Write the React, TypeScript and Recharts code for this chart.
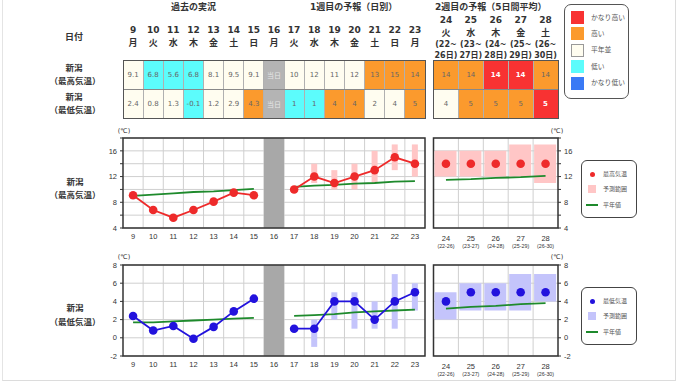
import React from 'react';
import { ComposedChart, Line, Bar, XAxis, YAxis, CartesianGrid, ReferenceArea } from 'recharts';

// ---------- data ----------
const pastDays = ['9', '10', '11', '12', '13', '14', '15'];
const pastWeekdays = ['月', '火', '水', '木', '金', '土', '日'];
const todayDay = '16';
const todayWeekday = '月';
const todayLabel = '当日';
const week1Days = ['17', '18', '19', '20', '21', '22', '23'];
const week1Weekdays = ['火', '水', '木', '金', '土', '日', '月'];
const week2Days = ['24', '25', '26', '27', '28'];
const week2Weekdays = ['火', '水', '木', '金', '土'];
const week2PeriodStart = ['22', '23', '24', '25', '26'];
const week2PeriodEnd = ['26', '27', '28', '29', '30'];

const pastMax = [9.1, 6.8, 5.6, 6.8, 8.1, 9.5, 9.1];
const pastMaxNormal = [9.0, 9.2, 9.4, 9.6, 9.7, 9.9, 10.1];
const pastMaxClass = ['n', 'l', 'l', 'l', 'n', 'n', 'n'];
const pastMin = [2.4, 0.8, 1.3, -0.1, 1.2, 2.9, 4.3];
const pastMinNormal = [1.7, 1.7, 1.8, 1.9, 2.0, 2.1, 2.2];
const pastMinClass = ['n', 'n', 'n', 'l', 'n', 'n', 'h'];

const week1Max = [10, 12, 11, 12, 13, 15, 14];
const week1MaxLow = [null, 11, 10, 10, 11, 13, 12];
const week1MaxHigh = [null, 14, 13, 14, 16, 17, 17];
const week1MaxNormal = [10.4, 10.6, 10.7, 10.9, 11.0, 11.2, 11.3];
const week1MaxClass = ['n', 'n', 'n', 'n', 'h', 'h', 'h'];
const week1Min = [1, 1, 4, 4, 2, 4, 5];
const week1MinLow = [null, -1, 2, 1, 1, 1, 3];
const week1MinHigh = [null, 2, 5, 5, 4, 7, 6];
const week1MinNormal = [2.4, 2.5, 2.6, 2.8, 2.9, 3.0, 3.1];
const week1MinClass = ['l', 'l', 'h', 'h', 'n', 'n', 'h'];

const week2Max = [14, 14, 14, 14, 14];
const week2MaxLow = [12, 12, 12, 12, 11];
const week2MaxHigh = [16, 16, 16, 17, 17];
const week2MaxNormal = [11.5, 11.6, 11.8, 11.9, 12.1];
const week2MaxClass = ['h', 'h', 'vh', 'vh', 'h'];
const week2Min = [4, 5, 5, 5, 5];
const week2MinLow = [2, 3, 3, 3, 4];
const week2MinHigh = [5, 6, 6, 7, 7];
const week2MinNormal = [3.2, 3.4, 3.5, 3.7, 3.8];
const week2MinClass = ['n', 'h', 'h', 'h', 'vh'];

const maxTicks = [4, 6, 8, 10, 12, 14, 16, 18];
const minTicks = [-2, 0, 2, 4, 6, 8];

const legendClasses = ['vh', 'h', 'n', 'l', 'vl'];
const legendLabels = ['かなり高い', '高い', '平年並', '低い', 'かなり低い'];

// ---------- styles ----------
const classColor: Record<string, string> = {
  vh: '#f83232',
  h: '#fb9a2d',
  n: '#fffdf0',
  l: '#5cfcfc',
  vl: '#3a7af5',
  t: '#b4b4b4',
};
const JP = '"DejaVu Sans", "Noto Sans CJK JP", sans-serif';
const AX = '"Liberation Sans", Arial, sans-serif';
const RED = '#ee2a2a';
const BLUE = '#2212dd';
const GREEN = '#1e8a2c';
const PINK = '#ffc6c6';
const LAV = '#c4c4fb';

// layout
const X1 = 123;
const W1 = 302;
const N1 = 15;
const CW1 = W1 / N1;
const X2 = 433.5;
const W2 = 124.5;
const N2 = 5;
const CW2 = W2 / N2;

// ---------- chart data ----------
const rangeOf = (lo: number | null, hi: number | null) => (lo == null || hi == null ? null : [lo, hi]);

const chartA = [
  ...pastDays.map((d, i) => ({
    day: d,
    max: pastMax[i],
    maxN: pastMaxNormal[i],
    maxR: null as any,
    min: pastMin[i],
    minN: pastMinNormal[i],
    minR: null as any,
  })),
  { day: todayDay, max: null, maxN: null, maxR: null, min: null, minN: null, minR: null },
  ...week1Days.map((d, i) => ({
    day: d,
    max: week1Max[i],
    maxN: week1MaxNormal[i],
    maxR: rangeOf(week1MaxLow[i], week1MaxHigh[i]),
    min: week1Min[i],
    minN: week1MinNormal[i],
    minR: rangeOf(week1MinLow[i], week1MinHigh[i]),
  })),
];

const chartB = week2Days.map((d, i) => ({
  day: d,
  max: week2Max[i],
  maxN: week2MaxNormal[i],
  maxR: [week2MaxLow[i], week2MaxHigh[i]],
  min: week2Min[i],
  minN: week2MinNormal[i],
  minR: [week2MinLow[i], week2MinHigh[i]],
}));

function boundaryGen(n: number, fallbackLeft: number, fallbackWidth: number) {
  return (props: any) => {
    const off = props && props.offset ? props.offset : null;
    const left = off && typeof off.left === 'number' ? off.left : fallbackLeft;
    const w = off && typeof off.width === 'number' ? off.width : fallbackWidth;
    const out: number[] = [];
    for (let i = 1; i < n; i++) out.push(left + (i * w) / n);
    return out;
  };
}

const Week2Tick = (props: any) => {
  const { x, y, payload, index } = props;
  return (
    <g>
      <text x={x} y={y + 4} textAnchor="middle" dominantBaseline="central" fontSize={7.5} fill="#333" fontFamily={AX}>
        {payload.value}
      </text>
      <text x={x} y={y + 11.5} textAnchor="middle" dominantBaseline="central" fontSize={5.3} fill="#333" fontFamily={AX}>
        {`(${week2PeriodStart[index]}-${week2PeriodEnd[index]})`}
      </text>
    </g>
  );
};

const T = ({ x, y, children, size = 9, bold = false, color = '#333', align = 'center' }: any) => (
  <div
    style={{
      position: 'absolute',
      left: x,
      top: y,
      transform: align === 'center' ? 'translate(-50%, -50%)' : 'translate(0, -50%)',
      fontSize: size,
      fontWeight: bold ? 700 : 400,
      color,
      fontFamily: JP,
      whiteSpace: 'nowrap',
      lineHeight: 1,
    }}
  >
    {children}
  </div>
);

const Cell = ({ x, y, w, h, cls, text }: any) => (
  <div
    style={{
      position: 'absolute',
      left: x,
      top: y,
      width: w,
      height: h,
      background: classColor[cls],
      display: 'flex',
      alignItems: 'center',
      justifyContent: 'center',
      fontFamily: JP,
      fontSize: 7,
      fontWeight: cls === 'vh' ? 700 : 400,
      color: cls === 'vh' ? '#fff' : cls === 't' ? '#e6e6e6' : '#666',
    }}
  >
    {text}
  </div>
);

function TableBlock({ x, w, n, row1, row2 }: any) {
  const cw = w / n;
  const top = 60.5;
  const rh = 29;
  const lines = [];
  for (let i = 1; i < n; i++) {
    lines.push(
      <div key={'v' + i} style={{ position: 'absolute', left: x + i * cw - 0.5, top, width: 1, height: rh * 2, background: '#b0b0b0' }} />
    );
  }
  return (
    <>
      {row1.map((c: any, i: number) => (
        <Cell key={'a' + i} x={x + i * cw} y={top} w={cw} h={rh} cls={c.cls} text={c.text} />
      ))}
      {row2.map((c: any, i: number) => (
        <Cell key={'b' + i} x={x + i * cw} y={top + rh} w={cw} h={rh} cls={c.cls} text={c.text} />
      ))}
      {lines}
      <div style={{ position: 'absolute', left: x, top: top + rh - 0.5, width: w, height: 1, background: '#888' }} />
      <div
        style={{
          position: 'absolute',
          left: x - 0.5,
          top: top - 0.5,
          width: w + 1,
          height: rh * 2 + 1,
          border: '1px solid #555',
          boxSizing: 'border-box',
        }}
      />
    </>
  );
}

const fmt1 = (v: number) => v.toFixed(1);

function ChartLegend({ top, dotColor, rangeColor, label }: any) {
  return (
    <div
      style={{
        position: 'absolute',
        left: 581,
        top,
        width: 56,
        height: 58,
        border: '1px solid #444',
        borderRadius: 6,
        boxSizing: 'border-box',
        background: '#fff',
      }}
    >
      <div style={{ position: 'absolute', left: 7.5, top: 10.5, width: 5, height: 5, borderRadius: '50%', background: dotColor }} />
      <T x={21} y={13} size={6} color="#555" align="left">{label}</T>
      <div style={{ position: 'absolute', left: 6, top: 24, width: 8, height: 8, background: rangeColor }} />
      <T x={21} y={28} size={6} color="#555" align="left">予測範囲</T>
      <div style={{ position: 'absolute', left: 4, top: 43, width: 12, height: 2, background: GREEN }} />
      <T x={21} y={44} size={6} color="#555" align="left">平年値</T>
    </div>
  );
}

function Panel({ data, days, kind, left, top, width, height, mLeft, mRight, mTop, xh, domain, ticks, fmt, right }: any) {
  const isMax = kind === 'max';
  const color = isMax ? RED : BLUE;
  const rangeColor = isMax ? PINK : LAV;
  const n = days.length;
  const plotLeft = mLeft + (right ? 0 : 30);
  const plotWidth = width - mLeft - mRight - 30;
  return (
    <div style={{ position: 'absolute', left, top }}>
      <ComposedChart
        width={width}
        height={height}
        data={data}
        margin={{ top: mTop, right: mRight, bottom: 2, left: mLeft }}
      >
        <CartesianGrid
          stroke="#cfcfcf"
          strokeWidth={1}
          verticalCoordinatesGenerator={boundaryGen(n, plotLeft, plotWidth)}
        />
        <XAxis
          dataKey="day"
          type="category"
          interval={0}
          tickLine={false}
          axisLine={false}
          tickMargin={0}
          height={xh}
          tick={right ? <Week2Tick /> : { fontSize: 7.5, fill: '#333', fontFamily: AX }}
        />
        <YAxis
          type="number"
          orientation={right ? 'right' : 'left'}
          domain={domain}
          ticks={ticks}
          interval={0}
          allowDataOverflow
          width={30}
          axisLine={false}
          tickSize={3}
          tickMargin={3}
          tickLine={{ stroke: '#333' }}
          tickFormatter={fmt}
          tick={{ fontSize: 7.5, fill: '#333', fontFamily: AX }}
        />
        {!right && <ReferenceArea x1={todayDay} x2={todayDay} fill="#a8a8a8" fillOpacity={1} stroke="none" />}
        <Bar
          dataKey={isMax ? 'maxR' : 'minR'}
          fill={rangeColor}
          barSize={right ? 22 : 6}
          isAnimationActive={false}
        />
        <Line
          dataKey={isMax ? 'maxN' : 'minN'}
          stroke={GREEN}
          strokeWidth={1.8}
          dot={false}
          activeDot={false}
          connectNulls={false}
          isAnimationActive={false}
        />
        <Line
          dataKey={isMax ? 'max' : 'min'}
          stroke={right ? 'none' : color}
          strokeWidth={right ? 0 : 1.8}
          dot={{ r: 4.3, fill: color, stroke: color, strokeWidth: 0 }}
          activeDot={false}
          connectNulls={false}
          isAnimationActive={false}
        />
        <ReferenceArea x1={days[0]} x2={days[n - 1]} fill="none" stroke="#333" strokeWidth={1.5} />
      </ComposedChart>
    </div>
  );
}

export default function App() {
  const allDays = [...pastDays, todayDay, ...week1Days];
  const allWeekdays = [...pastWeekdays, todayWeekday, ...week1Weekdays];

  const row1A = [
    ...pastMax.map((v, i) => ({ cls: pastMaxClass[i], text: fmt1(v) })),
    { cls: 't', text: todayLabel },
    ...week1Max.map((v, i) => ({ cls: week1MaxClass[i], text: String(v) })),
  ];
  const row2A = [
    ...pastMin.map((v, i) => ({ cls: pastMinClass[i], text: fmt1(v) })),
    { cls: 't', text: todayLabel },
    ...week1Min.map((v, i) => ({ cls: week1MinClass[i], text: String(v) })),
  ];
  const row1B = week2Max.map((v, i) => ({ cls: week2MaxClass[i], text: String(v) }));
  const row2B = week2Min.map((v, i) => ({ cls: week2MinClass[i], text: String(v) }));

  const maxFmt = (v: number) => (v % 4 === 0 ? String(v) : '');
  const minFmt = (v: number) => String(v);

  return (
    <div style={{ position: 'absolute', left: 0, top: 0, width: 680, height: 382, background: '#fff', overflow: 'hidden' }}>
      <div style={{ position: 'absolute', left: 2, top: -2, width: 674, height: 383, borderLeft: '1px solid #e4e4e4', borderRight: '1px solid #dcdcdc', borderBottom: '1px solid #dcdcdc', boxSizing: 'border-box' }} />

      {/* section titles */}
      <T x={X1 + CW1 * 3.5} y={7} bold>過去の実況</T>
      <T x={X1 + CW1 * 11.5 - 1} y={7} bold>1週目の予報（日別）</T>
      <T x={X2 + W2 / 2 - 5} y={7} bold>2週目の予報（5日間平均）</T>

      {/* date header */}
      <T x={74} y={37} bold>日付</T>
      {allDays.map((d, i) => (
        <T key={'d' + i} x={X1 + CW1 * (i + 0.5)} y={30} bold>{d}</T>
      ))}
      {allWeekdays.map((d, i) => (
        <T key={'w' + i} x={X1 + CW1 * (i + 0.5)} y={43} bold>{d}</T>
      ))}
      {week2Days.map((d, i) => (
        <React.Fragment key={'w2' + i}>
          <T x={X2 + CW2 * (i + 0.5)} y={20} bold>{d}</T>
          <T x={X2 + CW2 * (i + 0.5)} y={33} bold>{week2Weekdays[i]}</T>
          <T x={X2 + CW2 * (i + 0.5)} y={44.5} size={8} bold>{`(${week2PeriodStart[i]}~`}</T>
          <T x={X2 + CW2 * (i + 0.5)} y={55.5} size={8} bold>{`${week2PeriodEnd[i]}日)`}</T>
        </React.Fragment>
      ))}

      {/* row labels */}
      <T x={74} y={68} size={8.5} bold>新潟</T>
      <T x={75} y={81} size={8.5} bold>（最高気温）</T>
      <T x={74} y={97} size={8.5} bold>新潟</T>
      <T x={75} y={110} size={8.5} bold>（最低気温）</T>

      <TableBlock x={X1} w={W1} n={N1} row1={row1A} row2={row2A} />
      <TableBlock x={X2} w={W2} n={N2} row1={row1B} row2={row2B} />

      {/* class legend */}
      <div style={{ position: 'absolute', left: 564, top: 4, width: 65, height: 95, border: '1px solid #555', borderRadius: 7, boxSizing: 'border-box' }}>
        {legendClasses.map((c, i) => (
          <React.Fragment key={c}>
            <div
              style={{
                position: 'absolute',
                left: 6,
                top: 6 + i * 16.4,
                width: 13,
                height: 13,
                background: classColor[c],
                border: c === 'n' ? '1px solid #999' : 'none',
                boxSizing: 'border-box',
              }}
            />
            <T x={26} y={12.5 + i * 16.4} size={6.8} color="#555" align="left">{legendLabels[i]}</T>
          </React.Fragment>
        ))}
      </div>

      {/* chart labels */}
      <T x={75} y={182} size={8.5} bold>新潟</T>
      <T x={75} y={195} size={8.5} bold>（最高気温）</T>
      <T x={75} y={308} size={8.5} bold>新潟</T>
      <T x={75} y={321.5} size={8.5} bold>（最低気温）</T>

      <T x={124} y={131} size={6.5}>(℃)</T>
      <T x={557} y={131} size={6.5}>(℃)</T>
      <T x={124} y={256.5} size={6.5}>(℃)</T>
      <T x={557} y={256.5} size={6.5}>(℃)</T>

      <Panel data={chartA} days={allDays} kind="max" left={0} top={120} width={440} height={135} mLeft={93} mRight={15} mTop={18} xh={25} domain={[4, 18]} ticks={maxTicks} fmt={maxFmt} />
      <Panel data={chartB} days={week2Days} kind="max" left={400} top={120} width={200} height={135} mLeft={33.5} mRight={12} mTop={18} xh={25} domain={[4, 18]} ticks={maxTicks} fmt={maxFmt} right />
      <Panel data={chartA} days={allDays} kind="min" left={0} top={250} width={440} height={135} mLeft={93} mRight={15} mTop={15} xh={27} domain={[-2, 8]} ticks={minTicks} fmt={minFmt} />
      <Panel data={chartB} days={week2Days} kind="min" left={400} top={250} width={200} height={135} mLeft={33.5} mRight={12} mTop={15} xh={27} domain={[-2, 8]} ticks={minTicks} fmt={minFmt} right />

      <ChartLegend top={160} dotColor={RED} rangeColor={PINK} label="最高気温" />
      <ChartLegend top={287} dotColor={BLUE} rangeColor={LAV} label="最低気温" />
    </div>
  );
}
